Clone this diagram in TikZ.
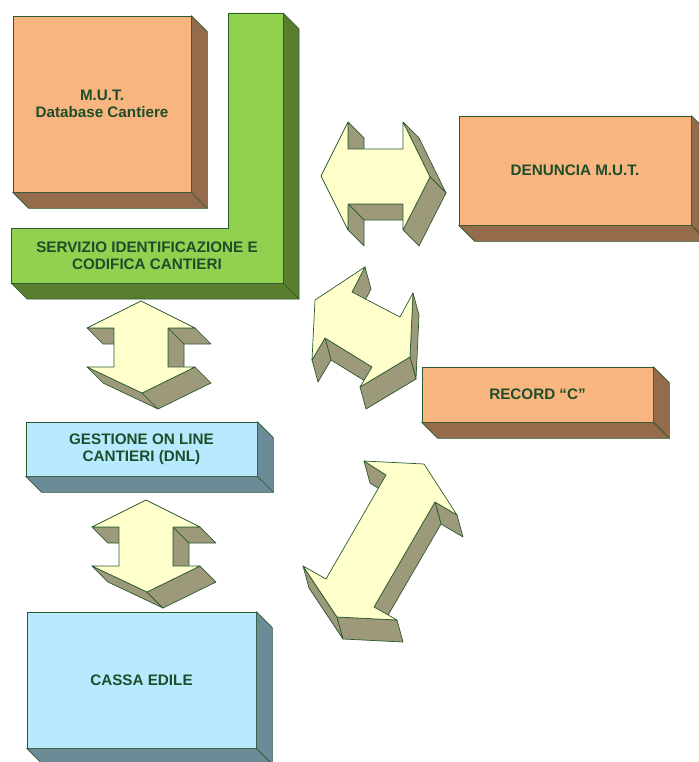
\documentclass[tikz,border=0pt]{standalone}
\usepackage{fontspec}
\setmainfont{Liberation Sans}
\usepackage{tikz}
\usetikzlibrary{calc}

\definecolor{textgreen}{HTML}{1E4D2B}
\definecolor{edgegreen}{HTML}{2B5A30}
\definecolor{orangefront}{HTML}{F8B57F}
\definecolor{orangeside}{HTML}{946B4B}
\definecolor{greenfront}{HTML}{92D050}
\definecolor{greenside}{HTML}{5A7E2E}
\definecolor{bluefront}{HTML}{B7EAFE}
\definecolor{blueside}{HTML}{6B8B96}
\definecolor{arrowfront}{HTML}{FFFFCC}
\definecolor{arrowside}{HTML}{9C9A7A}

\tikzstyle{box} = [
    rectangle,
    draw=edgegreen,
    line width=0.6pt,
    text=textgreen,
    font=\bfseries\fontsize{13}{14.5}\selectfont,
    align=center,
    inner sep=0pt
]
\tikzstyle{orangebox} = [
    box,
    fill=orangefront
]
\tikzstyle{bluebox} = [
    box,
    fill=bluefront
]
\tikzstyle{orangedepth} = [
    draw=edgegreen,
    line width=0.6pt,
    fill=orangeside,
    line join=round
]
\tikzstyle{greendepth} = [
    draw=edgegreen,
    line width=0.6pt,
    fill=greenside,
    line join=round
]
\tikzstyle{bluedepth} = [
    draw=edgegreen,
    line width=0.6pt,
    fill=blueside,
    line join=round
]
\tikzstyle{arrowtop} = [
    draw=edgegreen,
    line width=0.6pt,
    fill=arrowfront,
    line join=round
]
\tikzstyle{arrowdepth} = [
    draw=edgegreen,
    line width=0.6pt,
    fill=arrowside,
    line join=round
]

\newcommand{\extface}[4]{%
  \draw[#1] (#2) -- (#3) -- ($(#3)+(#4)$) -- ($(#2)+(#4)$) -- cycle;}

\begin{document}
\begin{tikzpicture}[x=0.03cm, y=-0.03cm]

\useasboundingbox (0,0) rectangle (698,762);

\node (mutdb) [orangebox, minimum width=5.34cm, minimum height=5.28cm] at (102,104)
{M.U.T.\\Database Cantiere};

\node (denuncia) [orangebox, minimum width=6.96cm, minimum height=3.27cm] at (575,170.5)
{DENUNCIA M.U.T.};

\node (record) [orangebox, minimum width=6.93cm, minimum height=1.65cm] at (537.5,394.5)
{RECORD “C”};

\node (gestione) [bluebox, minimum width=6.93cm, minimum height=1.62cm] at (141.5,449)
{GESTIONE ON LINE\\CANTIERI (DNL)};

\node (cassa) [bluebox, minimum width=6.87cm, minimum height=4.08cm] at (141.5,680)
{CASSA EDILE};

\extface{orangedepth}{mutdb.north east}{mutdb.south east}{16,16}
\extface{orangedepth}{mutdb.south west}{mutdb.south east}{16,16}
\extface{orangedepth}{denuncia.north east}{denuncia.south east}{16,16}
\extface{orangedepth}{denuncia.south west}{denuncia.south east}{16,16}
\extface{orangedepth}{record.north east}{record.south east}{16,16}
\extface{orangedepth}{record.south west}{record.south east}{16,16}
\extface{bluedepth}{gestione.north east}{gestione.south east}{16,16}
\extface{bluedepth}{gestione.south west}{gestione.south east}{16,16}
\extface{bluedepth}{cassa.north east}{cassa.south east}{16,16}
\extface{bluedepth}{cassa.south west}{cassa.south east}{16,16}

\coordinate (lt1) at (228,13);
\coordinate (lt2) at (283,13);
\coordinate (lb2) at (283,283);
\coordinate (lb1) at (11,283);
\coordinate (lm1) at (11,228);
\coordinate (lm2) at (228,228);
\extface{greendepth}{lt2}{lb2}{16,16}
\extface{greendepth}{lb1}{lb2}{16,16}
\draw [box, fill=greenfront] (lt1) -- (lt2) -- (lb2) -- (lb1) -- (lm1) -- (lm2) -- cycle;
\node (servizio) [box, draw=none] at (147,255.5)
{SERVIZIO IDENTIFICAZIONE E\\CODIFICA CANTIERI};

\coordinate (a1) at (141,301);
\coordinate (a2) at (195,328);
\coordinate (a3) at (168,328);
\coordinate (a4) at (168,367);
\coordinate (a5) at (195,367);
\coordinate (a6) at (142,393);
\coordinate (a7) at (87,367);
\coordinate (a8) at (114,367);
\coordinate (a9) at (114,328);
\coordinate (a10) at (87,328);
\extface{arrowdepth}{a9}{a10}{16,16}
\extface{arrowdepth}{a2}{a3}{16,16}
\extface{arrowdepth}{a3}{a4}{16,16}
\extface{arrowdepth}{a6}{a7}{16,16}
\extface{arrowdepth}{a5}{a6}{16,16}
\draw [arrowtop] (a1) -- (a2) -- (a3) -- (a4) -- (a5) -- (a6) -- (a7) -- (a8) -- (a9) -- (a10) -- cycle;

\coordinate (b1) at (146,500);
\coordinate (b2) at (200,527);
\coordinate (b3) at (173,527);
\coordinate (b4) at (173,566);
\coordinate (b5) at (200,566);
\coordinate (b6) at (147,592);
\coordinate (b7) at (92,566);
\coordinate (b8) at (119,566);
\coordinate (b9) at (119,527);
\coordinate (b10) at (92,527);
\extface{arrowdepth}{b9}{b10}{16,16}
\extface{arrowdepth}{b2}{b3}{16,16}
\extface{arrowdepth}{b3}{b4}{16,16}
\extface{arrowdepth}{b6}{b7}{16,16}
\extface{arrowdepth}{b5}{b6}{16,16}
\draw [arrowtop] (b1) -- (b2) -- (b3) -- (b4) -- (b5) -- (b6) -- (b7) -- (b8) -- (b9) -- (b10) -- cycle;

\coordinate (c1) at (321,176);
\coordinate (c2) at (348,122);
\coordinate (c3) at (348,149);
\coordinate (c4) at (403,149);
\coordinate (c5) at (403,122);
\coordinate (c6) at (430,177);
\coordinate (c7) at (403,230);
\coordinate (c8) at (403,204);
\coordinate (c9) at (348,204);
\coordinate (c10) at (348,230);
\extface{arrowdepth}{c2}{c3}{16,16}
\extface{arrowdepth}{c5}{c6}{16,16}
\extface{arrowdepth}{c8}{c9}{16,16}
\extface{arrowdepth}{c9}{c10}{16,16}
\extface{arrowdepth}{c6}{c7}{16,16}
\draw [arrowtop] (c1) -- (c2) -- (c3) -- (c4) -- (c5) -- (c6) -- (c7) -- (c8) -- (c9) -- (c10) -- cycle;

\coordinate (d1) at (365,267);
\coordinate (d2) at (315,300);
\coordinate (d3) at (312,360);
\coordinate (d4) at (325,338);
\coordinate (d5) at (372,367);
\coordinate (d6) at (360,387);
\coordinate (d7) at (410,357);
\coordinate (d8) at (413,293);
\coordinate (d9) at (400,317);
\coordinate (d10) at (352,292);
\extface{arrowdepth}{d10}{d1}{6,22}
\extface{arrowdepth}{d7}{d8}{6,22}
\extface{arrowdepth}{d4}{d5}{6,22}
\extface{arrowdepth}{d3}{d4}{6,22}
\extface{arrowdepth}{d6}{d7}{6,22}
\draw [arrowtop] (d1) -- (d2) -- (d3) -- (d4) -- (d5) -- (d6) -- (d7) -- (d8) -- (d9) -- (d10) -- cycle;

\coordinate (e1) at (364,461);
\coordinate (e2) at (424,464);
\coordinate (e3) at (457,515);
\coordinate (e4) at (435,502);
\coordinate (e5) at (374,607);
\coordinate (e6) at (397,620);
\coordinate (e7) at (337,617);
\coordinate (e8) at (303,566);
\coordinate (e9) at (326,579);
\coordinate (e10) at (386,475);
\extface{arrowdepth}{e10}{e1}{6,22}
\extface{arrowdepth}{e3}{e4}{6,22}
\extface{arrowdepth}{e4}{e5}{6,22}
\extface{arrowdepth}{e7}{e8}{6,22}
\extface{arrowdepth}{e6}{e7}{6,22}
\draw [arrowtop] (e1) -- (e2) -- (e3) -- (e4) -- (e5) -- (e6) -- (e7) -- (e8) -- (e9) -- (e10) -- cycle;

\end{tikzpicture}
\end{document}
